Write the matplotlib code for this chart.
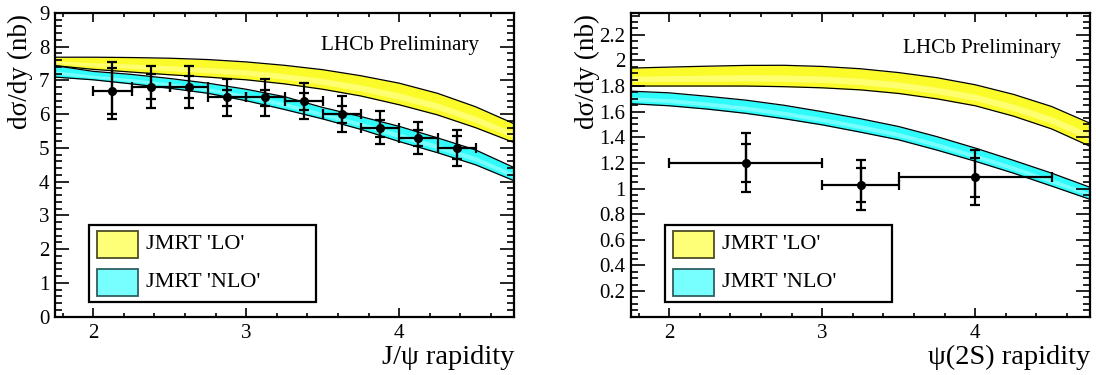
import numpy as np
import matplotlib
matplotlib.use("Agg")
import matplotlib.pyplot as plt
from matplotlib.patches import Rectangle
from matplotlib.ticker import MultipleLocator, FixedLocator, FuncFormatter

plt.rcParams['font.family'] = ['Liberation Serif', 'DejaVu Serif']

# ---------------- data: J/psi ----------------
jpsi_x = [2.125, 2.375, 2.625, 2.875, 3.125, 3.375, 3.625, 3.875, 4.125, 4.375]
jpsi_y = [6.7, 6.8, 6.8, 6.5, 6.5, 6.4, 6.0, 5.6, 5.3, 5.0]
jpsi_stat_lo = [6.01, 6.45, 6.47, 6.25, 6.25, 6.13, 5.74, 5.34, 5.06, 4.67]
jpsi_stat_hi = [7.37, 7.20, 7.14, 6.72, 6.72, 6.64, 6.25, 5.83, 5.54, 5.36]
jpsi_tot_lo = [5.86, 6.17, 6.18, 5.95, 5.95, 5.85, 5.48, 5.11, 4.83, 4.47]
jpsi_tot_hi = [7.55, 7.42, 7.42, 7.05, 7.05, 6.94, 6.53, 6.10, 5.78, 5.52]
jpsi_xerr = [0.125] * 10

band_x = [1.75, 2.0, 2.25, 2.5, 2.75, 3.0, 3.25, 3.5, 3.75, 4.0, 4.25, 4.5, 4.75]
jpsi_lo_up = [7.69, 7.69, 7.68, 7.66, 7.62, 7.55, 7.45, 7.32, 7.14, 6.92, 6.62, 6.22, 5.72]
jpsi_lo_dn = [7.44, 7.33, 7.25, 7.17, 7.10, 7.02, 6.90, 6.74, 6.54, 6.28, 5.98, 5.60, 5.16]
jpsi_nlo_up = [7.44, 7.27, 7.18, 7.06, 6.92, 6.74, 6.52, 6.20, 5.93, 5.64, 5.30, 4.94, 4.42]
jpsi_nlo_dn = [7.10, 7.02, 6.90, 6.77, 6.62, 6.40, 6.14, 5.86, 5.55, 5.19, 4.86, 4.50, 4.03]

# ---------------- data: psi(2S) ----------------
psi2s_x = [2.5, 3.25, 4.0]
psi2s_y = [1.20, 1.03, 1.09]
psi2s_xlo = [2.0, 3.0, 3.5]
psi2s_xhi = [3.0, 3.5, 4.5]
psi2s_stat_lo = [1.048, 0.896, 0.932]
psi2s_stat_hi = [1.35, 1.16, 1.24]
psi2s_tot_lo = [0.97, 0.834, 0.872]
psi2s_tot_hi = [1.43, 1.226, 1.303]

psi2s_lo_up = [1.94, 1.948, 1.955, 1.961, 1.962, 1.953, 1.935, 1.905, 1.865, 1.81, 1.735, 1.64, 1.51]
psi2s_lo_dn = [1.80, 1.80, 1.80, 1.80, 1.795, 1.786, 1.77, 1.742, 1.70, 1.646, 1.565, 1.465, 1.33]
psi2s_nlo_up = [1.76, 1.747, 1.72, 1.69, 1.65, 1.60, 1.545, 1.484, 1.405, 1.316, 1.22, 1.12, 1.01]
psi2s_nlo_dn = [1.662, 1.646, 1.62, 1.587, 1.545, 1.497, 1.44, 1.38, 1.30, 1.213, 1.12, 1.019, 0.916]

legend_labels = ["JMRT 'LO'", "JMRT 'NLO'"]

YEL, YEL_L = '#fbfb2a', '#ffff70'
CYA, CYA_L = '#30fbfb', '#75ffff'

fig = plt.figure(figsize=(10.96, 3.75), dpi=100)
axL = fig.add_axes([55 / 1096, 58.3 / 375, 459 / 1096, 303.7 / 375])
axR = fig.add_axes([631 / 1096, 58.3 / 375, 459 / 1096, 303.7 / 375])


def band(ax, xs, up, dn, col, col_l):
    xs = np.asarray(xs); up = np.asarray(up); dn = np.asarray(dn)
    ax.fill_between(xs, dn, up, color=col, lw=0, zorder=1)
    w = up - dn
    ax.fill_between(xs, dn + 0.25 * w, dn + 0.55 * w, color=col_l, lw=0, zorder=1.1)
    ax.plot(xs, up, color='black', lw=0.9, zorder=1.5)
    ax.plot(xs, dn, color='black', lw=0.9, zorder=1.5)


def points(ax, x, y, xm, xp, slo, shi, tlo, thi):
    x = np.asarray(x); y = np.asarray(y)
    ax.errorbar(x, y, xerr=[np.asarray(xm), np.asarray(xp)],
                yerr=[y - np.asarray(tlo), np.asarray(thi) - y],
                fmt='o', color='black', ms=5.5, lw=1.6, capsize=3.5, capthick=1.6, zorder=3)
    ax.errorbar(x, y, yerr=[y - np.asarray(slo), np.asarray(shi) - y],
                fmt='none', ecolor='black', lw=1.6, capsize=3.5, capthick=1.6, zorder=3)


def style(ax):
    ax.set_xlim(1.75, 4.75)
    ax.xaxis.set_major_locator(FixedLocator([2, 3, 4]))
    ax.xaxis.set_minor_locator(MultipleLocator(0.2))
    ax.tick_params(which='both', direction='in', top=True, right=True, labelsize=15, width=1.2)
    ax.tick_params(axis='x', which='major', length=6.5, pad=5)
    ax.tick_params(axis='x', which='minor', length=3.2)
    ax.tick_params(axis='y', which='major', length=10, pad=4)
    ax.tick_params(axis='y', which='minor', length=5)
    for s in ax.spines.values():
        s.set_linewidth(1.6)
    ax.xaxis.set_major_formatter(FuncFormatter(lambda v, p: '%g' % v))
    ax.yaxis.set_major_formatter(FuncFormatter(lambda v, p: '%g' % round(v, 2)))


def legend(ax):
    ax.add_patch(Rectangle((0.0747, 0.0494), 0.494, 0.2526, transform=ax.transAxes,
                           fill=True, fc='white', ec='black', lw=1.6, zorder=5))
    cols = ['#ffff77', '#77ffff']
    ecs = ['#4d4d26', '#2f5f5f']
    ys = [0.194, 0.068]
    for c, e, y0, lab in zip(cols, ecs, ys, legend_labels):
        ax.add_patch(Rectangle((0.0922, y0), 0.088, 0.089, transform=ax.transAxes,
                               fc=c, ec=e, lw=1.3, zorder=6))
        ax.text(0.198, y0 + 0.0445, lab, transform=ax.transAxes, fontsize=16,
                va='center', ha='left', zorder=7)


# left panel
band(axL, band_x, jpsi_lo_up, jpsi_lo_dn, YEL, YEL_L)
band(axL, band_x, jpsi_nlo_up, jpsi_nlo_dn, CYA, CYA_L)
points(axL, jpsi_x, jpsi_y, jpsi_xerr, jpsi_xerr, jpsi_stat_lo, jpsi_stat_hi, jpsi_tot_lo, jpsi_tot_hi)
style(axL)
axL.set_ylim(0, 9)
axL.yaxis.set_major_locator(MultipleLocator(1))
axL.yaxis.set_minor_locator(MultipleLocator(0.2))
legend(axL)
axL.text(0.924, 0.878, 'LHCb Preliminary', transform=axL.transAxes, fontsize=15.2,
         ha='right', va='baseline')

# right panel
band(axR, band_x, psi2s_lo_up, psi2s_lo_dn, YEL, YEL_L)
band(axR, band_x, psi2s_nlo_up, psi2s_nlo_dn, CYA, CYA_L)
px = np.asarray(psi2s_x)
points(axR, psi2s_x, psi2s_y, px - np.asarray(psi2s_xlo), np.asarray(psi2s_xhi) - px,
       psi2s_stat_lo, psi2s_stat_hi, psi2s_tot_lo, psi2s_tot_hi)
style(axR)
axR.set_ylim(0, 2.37)
axR.yaxis.set_major_locator(FixedLocator([0.2, 0.4, 0.6, 0.8, 1.0, 1.2, 1.4, 1.6, 1.8, 2.0, 2.2]))
axR.yaxis.set_minor_locator(MultipleLocator(0.05))
legend(axR)
axR.text(0.937, 0.867, 'LHCb Preliminary', transform=axR.transAxes, fontsize=15.2,
         ha='right', va='baseline')

# axis titles (ROOT style: right/top aligned)
fig.text(514 / 1096, (375 - 364) / 375, 'J/ψ rapidity', fontsize=20.5, ha='right', va='baseline')
fig.text(1090 / 1096, (375 - 364) / 375, 'ψ(2S) rapidity', fontsize=20.5, ha='right', va='baseline')
fig.text(20 / 1096, 1 - 14 / 375, 'dσ/dy (nb)', fontsize=19.5, rotation=90, ha='center', va='top')
fig.text(587 / 1096, 1 - 14 / 375, 'dσ/dy (nb)', fontsize=19.5, rotation=90, ha='center', va='top')

fig.savefig('out.png', dpi=100)
